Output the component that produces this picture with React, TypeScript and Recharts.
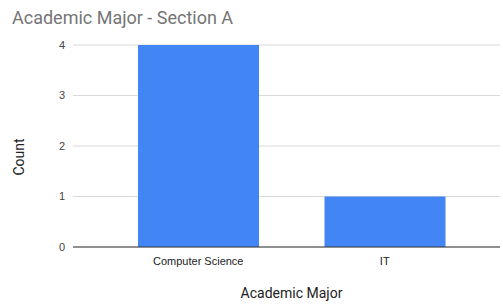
import { Bar, BarChart, CartesianGrid, XAxis, YAxis } from 'recharts'

const majors = ['Computer Science', 'IT']
const counts = [4, 1]
const yTicks = [0, 1, 2, 3, 4]

const data = majors.map((name, i) => ({ name, count: counts[i] }))

const TICK_FONT = 'Arial, "Liberation Sans", sans-serif'
const LABEL_FONT = 'Roboto, Arial, sans-serif'

// rotated y-axis title, a bit below the plot centre like the original
const CountLabel = (props: any) => {
  const vb = props.viewBox || {}
  const cx = 19
  const cy = (vb.y ?? 45) + (vb.height ?? 200) / 2 + 11
  return (
    <text
      x={cx}
      y={cy}
      transform={`rotate(-90, ${cx}, ${cy})`}
      textAnchor="middle"
      dominantBaseline="central"
      fill="#222"
      fontSize={14}
      fontFamily={LABEL_FONT}
    >
      Count
    </text>
  )
}

// x-axis title centred over the bars rather than the whole grid
const MajorLabel = (props: any) => {
  const vb = props.viewBox || {}
  const cx = (vb.x ?? 73) + (vb.width ?? 427) / 2 + 5
  const y = (vb.y ?? 247) + (vb.height ?? 58) - 7
  return (
    <text x={cx} y={y} textAnchor="middle" fill="#222" fontSize={14} fontFamily={LABEL_FONT}>
      Academic Major
    </text>
  )
}

export default function App() {
  return (
    <div style={{ position: 'absolute', left: 0, top: 0, width: 503, height: 305, background: '#fff' }}>
      <div
        style={{
          position: 'absolute',
          left: 12,
          top: 7,
          fontSize: 18,
          lineHeight: '22px',
          color: '#757575',
          fontFamily: LABEL_FONT,
          whiteSpace: 'nowrap',
        }}
      >
        Academic Major - Section A
      </div>
      <BarChart
        width={503}
        height={305}
        data={data}
        margin={{ top: 45, right: 3, left: 0, bottom: 0 }}
        barSize={121}
      >
        <CartesianGrid vertical={false} stroke="#d9d9d9" />
        <XAxis
          dataKey="name"
          height={58}
          padding={{ left: 32, right: 22 }}
          tickLine={false}
          axisLine={{ stroke: '#333' }}
          tick={{ fill: '#222', fontSize: 11, fontFamily: TICK_FONT }}
          tickMargin={4}
          label={<MajorLabel />}
        />
        <YAxis
          width={73}
          domain={[0, 4]}
          ticks={yTicks}
          tickLine={false}
          axisLine={false}
          tick={{ fill: '#444', fontSize: 11, fontFamily: TICK_FONT }}
          label={<CountLabel />}
        />
        <Bar dataKey="count" fill="#4285f4" isAnimationActive={false} />
      </BarChart>
    </div>
  )
}
